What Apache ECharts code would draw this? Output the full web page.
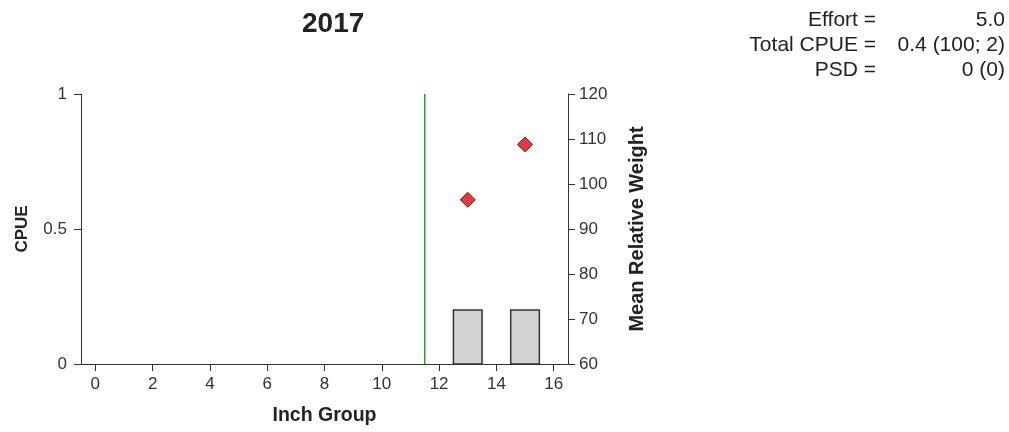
<!DOCTYPE html>
<html>
<head>
<meta charset="utf-8">
<script src="https://cdn.jsdelivr.net/npm/echarts@6/dist/echarts.min.js"></script>
<style>
  html, body { margin: 0; padding: 0; background: #fff; }
  #chart { width: 1009px; height: 432px; }
</style>
</head>
<body>
<div id="chart"></div>
<script>
// data
var inchCats = ['0', '1', '2', '3', '4', '5', '6', '7', '8', '9', '10', '11', '12', '13', '14', '15', '16'];
var inchGroups = [13, 15];
var cpue = [0.2, 0.2];
var relWeight = [96.5, 108.8];
var stockLine = 11.5;
var statLabels = ['Effort =', 'Total CPUE =', 'PSD ='];
var statValues = ['5.0', '0.4 (100; 2)', '0 (0)'];

var chart = echarts.init(document.getElementById('chart'));
var font = '"Liberation Sans", Arial, sans-serif';
var axisColor = '#333';

var barData = [];
var dotData = [];
for (var i = 0; i < inchGroups.length; i++) {
    barData.push([inchGroups[i], cpue[i]]);
    dotData.push([inchGroups[i], relWeight[i]]);
}

var statText = [];
for (var j = 0; j < statLabels.length; j++) {
    statText.push({
        type: 'text', right: 133, top: 10 + j * 25,
        style: { text: statLabels[j], font: '21px ' + font, fill: '#222', textAlign: 'right' }
    });
    statText.push({
        type: 'text', right: 4, top: 10 + j * 25,
        style: { text: statValues[j], font: '21px ' + font, fill: '#222', textAlign: 'right' }
    });
}

var option = {
    animation: false,
    textStyle: { fontFamily: font },
    title: {
        text: '2017', left: 297, top: 5,
        textStyle: { fontSize: 28, fontWeight: 'bold', color: '#222', fontFamily: font }
    },
    graphic: statText,
    grid: { left: 81, right: 441, top: 94, bottom: 68 },
    xAxis: {
        type: 'category', data: inchCats, boundaryGap: true,
        name: 'Inch Group', nameLocation: 'middle', nameGap: 42,
        nameTextStyle: { fontSize: 19.5, fontWeight: 'bold', color: '#222' },
        axisLine: { lineStyle: { color: axisColor } },
        axisTick: { show: true, length: 7, interval: 1, alignWithLabel: true, lineStyle: { color: axisColor } },
        axisLabel: { interval: 1, fontSize: 17, color: '#333', margin: 12 },
        splitLine: { show: false }
    },
    yAxis: [{
        type: 'value', min: 0, max: 1, interval: 0.5,
        name: 'CPUE', nameLocation: 'middle', nameGap: 50, nameRotate: 90,
        nameTextStyle: { fontSize: 17, fontWeight: 'bold', color: '#222' },
        axisLine: { show: true, onZero: false, lineStyle: { color: axisColor } },
        axisTick: { show: true, length: 7, lineStyle: { color: axisColor } },
        axisLabel: { fontSize: 17, color: '#333', margin: 14 },
        splitLine: { show: false }
    }, {
        type: 'value', min: 60, max: 120, interval: 10, position: 'right',
        name: 'Mean Relative Weight', nameLocation: 'middle', nameGap: 59, nameRotate: 90,
        nameTextStyle: { fontSize: 20, fontWeight: 'bold', color: '#222' },
        axisLine: { show: true, onZero: false, lineStyle: { color: axisColor } },
        axisTick: { show: true, length: 7, lineStyle: { color: axisColor } },
        axisLabel: { fontSize: 17, color: '#333', margin: 11 },
        splitLine: { show: false }
    }],
    series: [{
        type: 'custom',
        yAxisIndex: 0,
        data: barData,
        renderItem: function (params, api) {
            var c = api.coord([api.value(0), api.value(1)]);
            var base = api.coord([api.value(0), 0]);
            var w = api.size([1, 0])[0];
            return {
                type: 'rect',
                shape: { x: c[0] - w / 2, y: c[1], width: w, height: base[1] - c[1] },
                style: { fill: '#d3d3d3', stroke: '#333', lineWidth: 1.5 }
            };
        },
        z: 2
    }, {
        type: 'custom',
        yAxisIndex: 0,
        data: [[stockLine]],
        renderItem: function (params, api) {
            var x = api.value(0);
            var lo = Math.floor(x);
            var a = api.coord([lo, 0]);
            var b = api.coord([lo + 1, 1]);
            var px = a[0] + (b[0] - a[0]) * (x - lo);
            return {
                type: 'line',
                shape: { x1: px, y1: a[1], x2: px, y2: b[1] },
                style: { stroke: '#2e9e2e', lineWidth: 1.5 }
            };
        },
        z: 1
    }, {
        type: 'scatter',
        yAxisIndex: 1,
        data: dotData,
        symbol: 'diamond',
        symbolSize: 15,
        itemStyle: { color: '#e23b3f', borderColor: '#6e1c1c', borderWidth: 1, opacity: 1 },
        z: 3
    }]
};

chart.setOption(option);
</script>
</body>
</html>
